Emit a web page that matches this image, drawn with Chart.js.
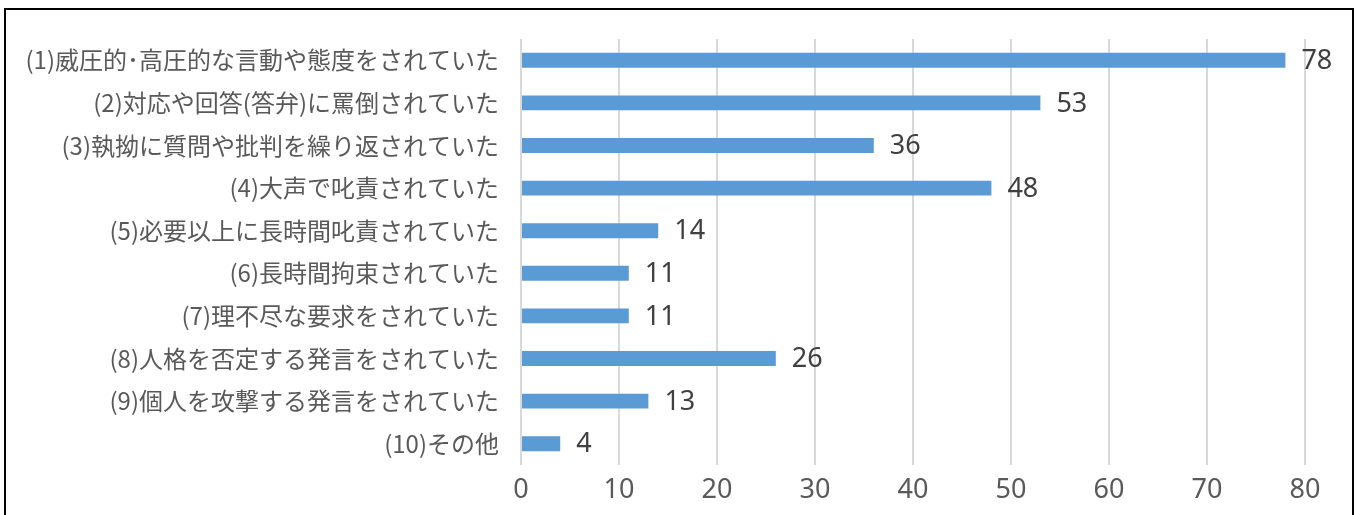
<!DOCTYPE html>
<html lang="ja">
<head>
<meta charset="utf-8">
<title>パワーハラスメントの内容</title>
<script src="https://cdn.jsdelivr.net/npm/chart.js@4/dist/chart.umd.min.js"></script>
<style>
  html, body { margin: 0; padding: 0; background: #fff; overflow: hidden; }
  #wrap { position: relative; width: 1357px; height: 515px; }
  #frame {
    position: absolute; left: 4px; top: 8px; width: 1346px; height: 600px;
    border: 2px solid #000; pointer-events: none;
  }
  canvas { position: absolute; left: 0; top: 0; }
</style>
</head>
<body>
<div id="wrap">
  <canvas id="chart" width="1357" height="515"></canvas>
  <div id="frame"></div>
</div>
<script>
const categories = [
  '(1)威圧的･高圧的な言動や態度をされていた',
  '(2)対応や回答(答弁)に罵倒されていた',
  '(3)執拗に質問や批判を繰り返されていた',
  '(4)大声で叱責されていた',
  '(5)必要以上に長時間叱責されていた',
  '(6)長時間拘束されていた',
  '(7)理不尽な要求をされていた',
  '(8)人格を否定する発言をされていた',
  '(9)個人を攻撃する発言をされていた',
  '(10)その他'
];
const counts = [78, 53, 36, 48, 14, 11, 11, 26, 13, 4];
const xTicks = [0, 10, 20, 30, 40, 50, 60, 70, 80];

const FONT = '"Noto Sans CJK JP", "Noto Sans", sans-serif';
const NUM_FONT = '"Noto Sans", "Noto Sans CJK JP", sans-serif';

// Writes each bar's value just past its end
const valueLabels = {
  id: 'valueLabels',
  afterDatasetsDraw(chart) {
    const ctx = chart.ctx;
    const meta = chart.getDatasetMeta(0);
    ctx.save();
    ctx.font = '27px ' + NUM_FONT;
    ctx.fillStyle = '#404040';
    ctx.textAlign = 'left';
    ctx.textBaseline = 'middle';
    meta.data.forEach((bar, i) => {
      ctx.fillText(String(counts[i]), bar.x + 16, bar.y + 1);
    });
    ctx.restore();
  }
};

new Chart(document.getElementById('chart'), {
  type: 'bar',
  data: {
    labels: categories,
    datasets: [{
      data: counts,
      backgroundColor: '#5B9BD5',
      borderWidth: 0,
      barPercentage: 0.35,
      categoryPercentage: 1.0
    }]
  },
  options: {
    indexAxis: 'y',
    responsive: false,
    animation: false,
    layout: { padding: { top: 39, right: 52, bottom: 0, left: 0 } },
    plugins: { legend: { display: false }, tooltip: { enabled: false } },
    scales: {
      x: {
        min: 0,
        max: 80,
        afterBuildTicks(scale) { scale.ticks = xTicks.map(v => ({ value: v })); },
        afterFit(scale) { scale.height = 50; },
        border: { display: false },
        grid: { color: '#d9d9d9', lineWidth: 2, drawTicks: false },
        ticks: {
          color: '#595959',
          font: { family: NUM_FONT, size: 27 },
          padding: 9
        }
      },
      y: {
        afterFit(scale) { scale.width = 521; },
        border: { display: false },
        grid: { display: false, drawTicks: false },
        ticks: {
          color: '#595959',
          font: { family: FONT, size: 24 },
          padding: 22,
          autoSkip: false
        }
      }
    }
  },
  plugins: [valueLabels]
});
</script>
</body>
</html>
